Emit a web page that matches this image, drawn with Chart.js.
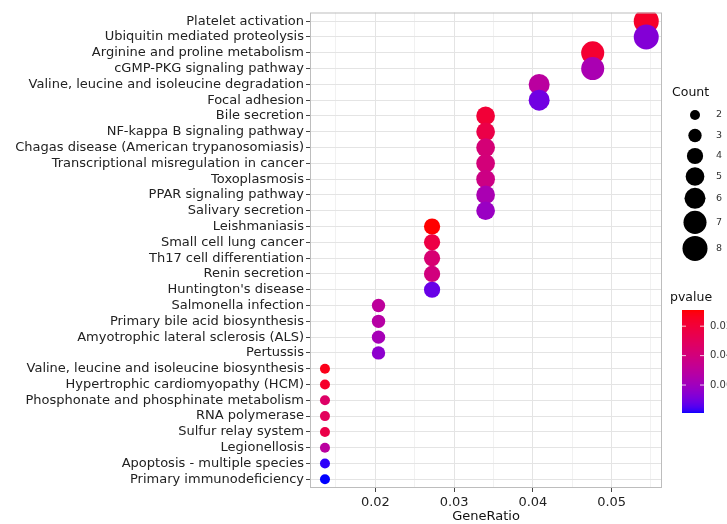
<!DOCTYPE html>
<html>
<head>
<meta charset="utf-8">
<script src="https://cdn.jsdelivr.net/npm/chart.js@4.4.1/dist/chart.umd.min.js"></script>
<style>
  html, body { margin: 0; padding: 0; background: #fff; }
  #wrap { width: 727px; height: 524px; position: relative; }
</style>
</head>
<body>
<div id="wrap"><canvas id="dotChart"></canvas></div>
<script>
// KEGG pathways, top to bottom as in the plot
const pathways = [
    'Platelet activation',
    'Ubiquitin mediated proteolysis',
    'Arginine and proline metabolism',
    'cGMP-PKG signaling pathway',
    'Valine, leucine and isoleucine degradation',
    'Focal adhesion',
    'Bile secretion',
    'NF-kappa B signaling pathway',
    'Chagas disease (American trypanosomiasis)',
    'Transcriptional misregulation in cancer',
    'Toxoplasmosis',
    'PPAR signaling pathway',
    'Salivary secretion',
    'Leishmaniasis',
    'Small cell lung cancer',
    'Th17 cell differentiation',
    'Renin secretion',
    "Huntington's disease",
    'Salmonella infection',
    'Primary bile acid biosynthesis',
    'Amyotrophic lateral sclerosis (ALS)',
    'Pertussis',
    'Valine, leucine and isoleucine biosynthesis',
    'Hypertrophic cardiomyopathy (HCM)',
    'Phosphonate and phosphinate metabolism',
    'RNA polymerase',
    'Sulfur relay system',
    'Legionellosis',
    'Apoptosis - multiple species',
    'Primary immunodeficiency'
];

const geneRatio = [
    0.0544, 0.0544, 0.0476, 0.0476, 0.0408, 0.0408,
    0.0340, 0.0340, 0.0340, 0.0340, 0.0340, 0.0340, 0.0340,
    0.0272, 0.0272, 0.0272, 0.0272, 0.0272,
    0.0204, 0.0204, 0.0204, 0.0204,
    0.0136, 0.0136, 0.0136, 0.0136, 0.0136, 0.0136, 0.0136, 0.0136
];

const counts = [
    8, 8, 7, 7, 6, 6,
    5, 5, 5, 5, 5, 5, 5,
    4, 4, 4, 4, 4,
    3, 3, 3, 3,
    2, 2, 2, 2, 2, 2, 2, 2
];

const pvalues = [
    0.0160, 0.0671, 0.0180, 0.0566, 0.0510, 0.0706,
    0.0195, 0.0244, 0.0384, 0.0391, 0.0426, 0.0566, 0.0615,
    0.0090, 0.0230, 0.0370, 0.0405, 0.0720,
    0.0496, 0.0524, 0.0580, 0.0650,
    0.0125, 0.0160, 0.0335, 0.0300, 0.0244, 0.0510, 0.0776, 0.0790
];

const xTickLabels = ['0.02', '0.03', '0.04', '0.05'];
const countLegend = [2, 3, 4, 5, 6, 7, 8];
const pvalueTicks = [0.02, 0.04, 0.06];

// ---- colour scale: red (low p) -> blue (high p), interpolated in Lab like ggplot
function lin(c) { c /= 255; return c <= 0.04045 ? c / 12.92 : Math.pow((c + 0.055) / 1.055, 2.4); }
function rgb2lab(rgb) {
    const [r, g, b] = rgb.map(lin);
    const x = (0.4124 * r + 0.3576 * g + 0.1805 * b) / 0.95047;
    const y = 0.2126 * r + 0.7152 * g + 0.0722 * b;
    const z = (0.0193 * r + 0.1192 * g + 0.9505 * b) / 1.08883;
    const f = t => t > 0.008856 ? Math.cbrt(t) : 7.787 * t + 16 / 116;
    return [116 * f(y) - 16, 500 * (f(x) - f(y)), 200 * (f(y) - f(z))];
}
function lab2rgb(lab) {
    const fy = (lab[0] + 16) / 116, fx = fy + lab[1] / 500, fz = fy - lab[2] / 200;
    const finv = t => t * t * t > 0.008856 ? t * t * t : (t - 16 / 116) / 7.787;
    const x = 0.95047 * finv(fx), y = finv(fy), z = 1.08883 * finv(fz);
    const gam = c => {
        c = Math.min(1, Math.max(0, c));
        return Math.round(255 * (c <= 0.0031308 ? 12.92 * c : 1.055 * Math.pow(c, 1 / 2.4) - 0.055));
    };
    return [
        gam(3.2406 * x - 1.5372 * y - 0.4986 * z),
        gam(-0.9689 * x + 1.8758 * y + 0.0415 * z),
        gam(0.0557 * x - 0.2040 * y + 1.0570 * z)
    ];
}
const labLow = rgb2lab([255, 0, 0]);
const labHigh = rgb2lab([0, 0, 255]);
const pMin = Math.min(...pvalues);
const pMax = Math.max(...pvalues);

function pColor(p) {
    const t = Math.min(1, Math.max(0, (p - pMin) / (pMax - pMin)));
    const c = lab2rgb(labLow.map((v, k) => v + (labHigh[k] - v) * t));
    return `rgb(${c[0]}, ${c[1]}, ${c[2]})`;
}

// point radius from count (size scale on sqrt)
function radius(n) {
    const lo = Math.sqrt(2), hi = Math.sqrt(8);
    return 5 + 7.5 * (Math.sqrt(n) - lo) / (hi - lo);
}

const FONT = "'DejaVu Sans', sans-serif";
const TEXT = '#222';
const isMajor = v => Math.abs(v * 100 - Math.round(v * 100)) < 1e-6;

const extras = {
    id: 'extras',
    afterDraw(chart) {
        const ctx = chart.ctx;
        const a = chart.chartArea;
        ctx.save();

        // panel border
        ctx.strokeStyle = '#bdbdbd';
        ctx.lineWidth = 1;
        ctx.strokeRect(a.left + 0.5, a.top + 0.5, a.right - a.left - 1, a.bottom - a.top - 1);

        // x axis title
        ctx.fillStyle = '#111';
        ctx.font = `13px ${FONT}`;
        ctx.textAlign = 'center';
        ctx.textBaseline = 'middle';
        ctx.fillText('GeneRatio', (a.left + a.right) / 2, 517);

        // Count legend
        ctx.textAlign = 'left';
        ctx.font = `12.5px ${FONT}`;
        ctx.fillText('Count', 672, 93);
        let y = 115;
        countLegend.forEach((n, i) => {
            if (i > 0) y += Math.max(20.5, radius(countLegend[i - 1]) + radius(n) + 2);
            ctx.fillStyle = '#000';
            ctx.beginPath();
            ctx.arc(695, y, radius(n), 0, Math.PI * 2);
            ctx.fill();
            ctx.fillStyle = '#333';
            ctx.font = `9.5px ${FONT}`;
            ctx.fillText(String(n), 716, y);
        });

        // pvalue colour bar (low p on top)
        ctx.fillStyle = '#111';
        ctx.font = `12.5px ${FONT}`;
        ctx.fillText('pvalue', 670, 298);
        const bx = 682, bw = 22, by = 310, bh = 103;
        for (let k = 0; k < bh; k++) {
            ctx.fillStyle = pColor(pMin + (pMax - pMin) * (k + 0.5) / bh);
            ctx.fillRect(bx, by + k, bw, 1);
        }
        ctx.font = `10px ${FONT}`;
        pvalueTicks.forEach(p => {
            const ty = by + bh * (p - pMin) / (pMax - pMin);
            ctx.strokeStyle = 'rgba(255,255,255,0.8)';
            ctx.beginPath();
            ctx.moveTo(bx, ty); ctx.lineTo(bx + 4, ty);
            ctx.moveTo(bx + bw - 4, ty); ctx.lineTo(bx + bw, ty);
            ctx.stroke();
            ctx.fillStyle = '#333';
            ctx.fillText(p.toFixed(2), 710, ty);
        });
        ctx.restore();
    }
};

new Chart(document.getElementById('dotChart'), {
    type: 'scatter',
    data: {
        datasets: [{
            data: pathways.map((name, i) => ({ x: geneRatio[i], y: i })),
            pointRadius: ctx => radius(counts[ctx.dataIndex]),
            pointHoverRadius: ctx => radius(counts[ctx.dataIndex]),
            pointBackgroundColor: ctx => pColor(pvalues[ctx.dataIndex]),
            pointBorderWidth: 0,
            borderWidth: 0
        }]
    },
    options: {
        responsive: true,
        maintainAspectRatio: false,
        animation: false,
        events: [],
        layout: { padding: { top: 11, right: 65, left: 0, bottom: 0 } },
        plugins: {
            legend: { display: false },
            tooltip: { enabled: false }
        },
        scales: {
            x: {
                type: 'linear',
                min: 0.0117,
                max: 0.0564,
                afterFit: scale => { scale.height = 36; },
                border: { display: false },
                grid: {
                    color: c => isMajor(c.tick.value) ? '#e4e4e4' : '#f1f1f1',
                    tickColor: c => isMajor(c.tick.value) ? '#444' : 'rgba(0,0,0,0)',
                    tickLength: 4,
                    lineWidth: 1
                },
                ticks: {
                    stepSize: 0.005,
                    includeBounds: false,
                    autoSkip: false,
                    maxRotation: 0,
                    padding: 3,
                    color: TEXT,
                    font: { family: FONT, size: 13 },
                    callback: v => {
                        const s = v.toFixed(2);
                        return isMajor(v) && xTickLabels.includes(s) ? s : '';
                    }
                }
            },
            y: {
                type: 'linear',
                reverse: true,
                min: -0.55,
                max: 29.55,
                afterFit: scale => { scale.width = 310; },
                border: { display: false },
                grid: {
                    color: '#e4e4e4',
                    tickColor: '#444',
                    tickLength: 4,
                    lineWidth: 1
                },
                ticks: {
                    stepSize: 1,
                    includeBounds: false,
                    autoSkip: false,
                    padding: 2,
                    color: TEXT,
                    font: { family: FONT, size: 13 },
                    callback: v => Number.isInteger(v) ? pathways[v] : ''
                }
            }
        }
    },
    plugins: [extras]
});
</script>
</body>
</html>
